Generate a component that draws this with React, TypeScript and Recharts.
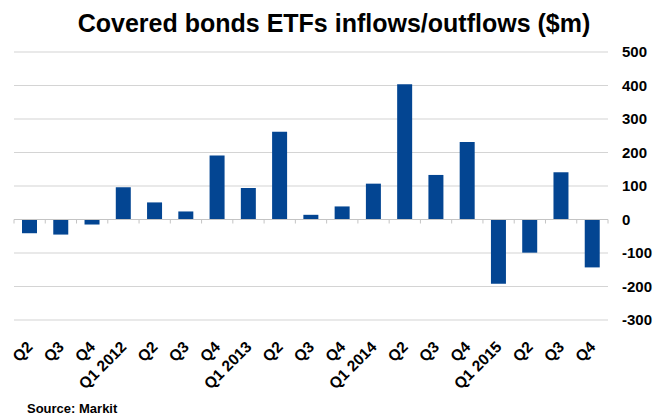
import React from "react";
import { Bar, BarChart, CartesianGrid, ReferenceLine, XAxis, YAxis } from "recharts";

const quarters = [
  "Q2", "Q3", "Q4", "Q1 2012", "Q2", "Q3", "Q4", "Q1 2013", "Q2", "Q3",
  "Q4", "Q1 2014", "Q2", "Q3", "Q4", "Q1 2015", "Q2", "Q3", "Q4",
];
const flows = [
  -41, -45, -15, 96, 51, 24, 191, 94, 262, 14,
  39, 107, 404, 133, 231, -192, -99, 141, -143,
];
const yTicks = [-300, -200, -100, 0, 100, 200, 300, 400, 500];

const data = quarters.map((q, i) => ({ slot: `s${i}`, quarter: q, flow: flows[i] }));

const FONT = "Arial, 'Liberation Sans', sans-serif";

function QuarterTick(props: any) {
  const { x, y, payload } = props;
  return (
    <g transform={`translate(${x + 4},${y + 20})`}>
      <text
        transform="rotate(-45)"
        textAnchor="end"
        fontFamily={FONT}
        fontWeight="bold"
        fontSize={15.5}
        fill="#000"
      >
        {quarters[payload.index] ?? payload.value}
      </text>
    </g>
  );
}

// zero line with the little category ticks hanging off it
function ZeroLine(props: any) {
  const { x1, y1, x2, y2 } = props;
  const step = (x2 - x1) / quarters.length;
  return (
    <g>
      <line x1={x1} y1={y1} x2={x2} y2={y2} stroke="#c4c4c4" strokeWidth={1.2} />
      {quarters.map((_, i) => (
        <line
          key={i}
          x1={x1 + step * (i + 1)}
          x2={x1 + step * (i + 1)}
          y1={y1}
          y2={y1 + 4}
          stroke="#c4c4c4"
        />
      ))}
      <line x1={x1} x2={x1} y1={y1} y2={y1 + 4} stroke="#c4c4c4" />
    </g>
  );
}

export default function App() {
  return (
    <div
      style={{
        position: "absolute",
        left: 0,
        top: 0,
        width: 656,
        height: 417,
        background: "#fff",
        fontFamily: FONT,
      }}
    >
      <div
        style={{
          position: "absolute",
          left: 0,
          width: 656,
          top: 9,
          textAlign: "center",
          fontSize: 25,
          fontWeight: "bold",
          color: "#000",
          paddingLeft: 12,
          boxSizing: "border-box",
        }}
      >
        Covered bonds ETFs inflows/outflows ($m)
      </div>
      <BarChart
        width={656}
        height={417}
        data={data}
        margin={{ top: 52, right: 0, left: 14, bottom: 17 }}
      >
        <CartesianGrid vertical={false} stroke="#d4d4d4" strokeWidth={1.2} />
        <XAxis
          dataKey="slot"
          axisLine={false}
          tickLine={false}
          height={80}
          interval={0}
          tick={<QuarterTick />}
        />
        <YAxis
          orientation="right"
          type="number"
          domain={[-300, 500]}
          ticks={yTicks}
          interval={0}
          axisLine={false}
          tickLine={false}
          tickSize={0}
          tickMargin={14}
          width={48}
          tick={{ fontFamily: FONT, fontWeight: "bold", fontSize: 15, fill: "#000" }}
        />
        <Bar dataKey="flow" fill="#034592" barSize={15} isAnimationActive={false} />
        <ReferenceLine y={0} shape={<ZeroLine />} />
      </BarChart>
      <div
        style={{
          position: "absolute",
          left: 27,
          top: 401,
          fontSize: 13,
          fontWeight: "bold",
          color: "#000",
        }}
      >
        Source: Markit
      </div>
    </div>
  );
}
